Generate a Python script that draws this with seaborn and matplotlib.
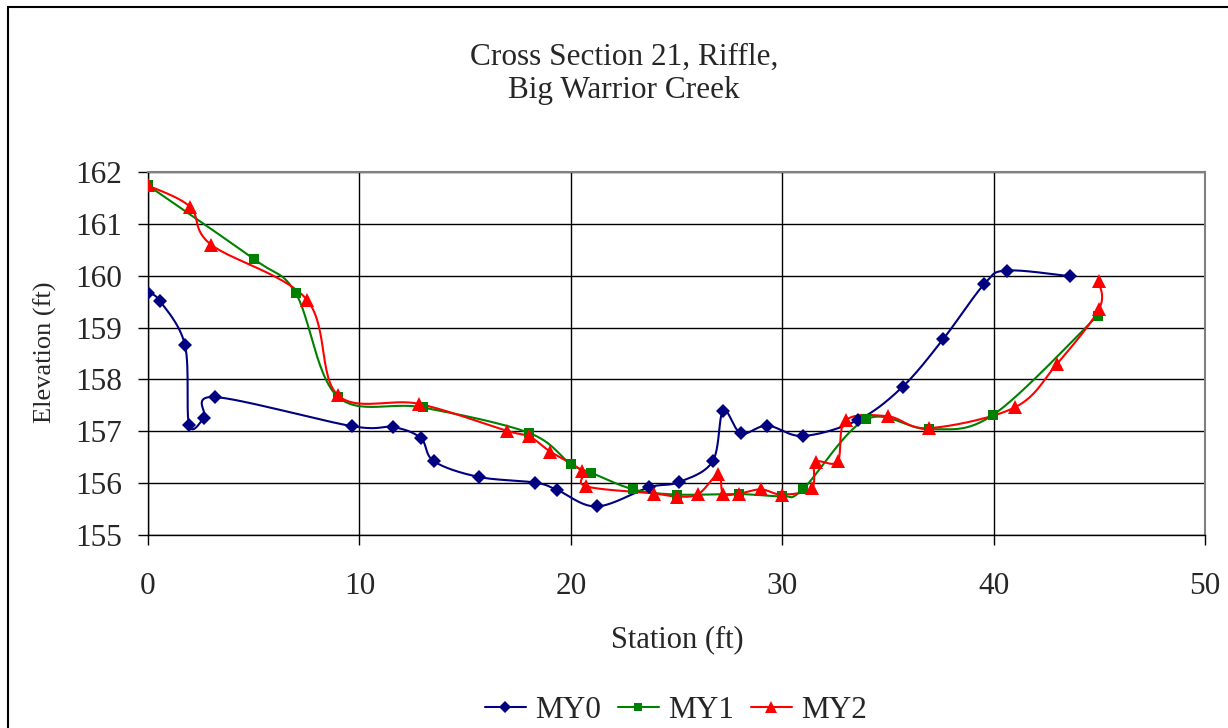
import numpy as np
import pandas as pd
import matplotlib
matplotlib.use("Agg")
import matplotlib.pyplot as plt
import seaborn as sns
from matplotlib.lines import Line2D
from matplotlib.patches import Rectangle

# ==========================================
# DATA
# ==========================================

my0_station = [0.0, 0.57, 1.75, 1.94, 2.65, 3.17, 9.63, 11.6, 12.9, 13.53,
               15.64, 18.32, 19.35, 21.22, 23.71, 25.12, 26.71, 27.21, 28.05,
               29.3, 31.0, 33.6, 35.7, 37.62, 39.56, 40.62, 43.61]
my0_elev = [159.67, 159.51, 158.66, 157.13, 157.26, 157.66, 157.10, 157.08,
            156.87, 156.42, 156.12, 156.01, 155.87, 155.55, 155.92, 156.02,
            156.42, 157.40, 156.96, 157.11, 156.91, 157.22, 157.86, 158.78,
            159.84, 160.10, 159.99]

my1_station = [0.0, 5.01, 6.99, 8.97, 12.99, 18.02, 19.99, 20.97, 22.96,
               25.0, 27.97, 29.98, 30.97, 33.96, 36.96, 39.99, 44.92]
my1_elev = [161.74, 160.32, 159.66, 157.67, 157.46, 156.97, 156.37, 156.20,
            155.88, 155.78, 155.79, 155.75, 155.88, 157.23, 157.04, 157.32,
            159.23]

my2_station = [0.0, 1.99, 2.98, 7.51, 8.97, 12.8, 16.97, 18.04, 19.02, 20.51,
               20.72, 23.95, 25.0, 26.03, 26.98, 27.21, 27.97, 29.0, 29.98,
               31.39, 31.58, 32.62, 33.0, 34.99, 36.96, 41.0, 42.98, 44.99,
               44.97]
my2_elev = [161.74, 161.33, 160.60, 159.54, 157.70, 157.53, 157.01, 156.90,
            156.61, 156.24, 155.94, 155.80, 155.74, 155.79, 156.17, 155.80,
            155.80, 155.88, 155.78, 155.90, 156.40, 156.42, 157.21, 157.29,
            157.06, 157.46, 158.29, 159.36, 159.89]

series_names = ["MY0", "MY1", "MY2"]
series_colors = {"MY0": "#000080", "MY1": "#008000", "MY2": "#FF0000"}
series_markers = {"MY0": "D", "MY1": "s", "MY2": "^"}
series_sizes = {"MY0": 7.5, "MY1": 7.0, "MY2": 10.0}

x_ticks = [0, 10, 20, 30, 40, 50]
y_ticks = [155, 156, 157, 158, 159, 160, 161, 162]

points = pd.concat([
    pd.DataFrame({"Series": "MY0", "Station": my0_station, "Elevation": my0_elev}),
    pd.DataFrame({"Series": "MY1", "Station": my1_station, "Elevation": my1_elev}),
    pd.DataFrame({"Series": "MY2", "Station": my2_station, "Elevation": my2_elev}),
], ignore_index=True)


# smoothed line like the spreadsheet "smooth line" option (cubic bezier)
def smooth(xs, ys, n=30):
    p = np.column_stack([xs, ys])
    ext = np.vstack([p[0], p, p[-1]])
    out = []
    t = np.linspace(0, 1, n)[:, None]
    for i in range(len(p) - 1):
        p0, p1, p2, p3 = ext[i], ext[i + 1], ext[i + 2], ext[i + 3]
        c1 = p1 + (p2 - p0) / 6
        c2 = p2 - (p3 - p1) / 6
        seg = ((1 - t) ** 3 * p1 + 3 * (1 - t) ** 2 * t * c1
               + 3 * (1 - t) * t ** 2 * c2 + t ** 3 * p2)
        out.append(seg if i == 0 else seg[1:])
    return np.vstack(out)


curves = []
for name, grp in points.groupby("Series", sort=False):
    c = smooth(grp["Station"].values, grp["Elevation"].values)
    curves.append(pd.DataFrame({"Series": name, "Station": c[:, 0],
                                "Elevation": c[:, 1]}))
curves = pd.concat(curves, ignore_index=True)

# ==========================================
# PLOT
# ==========================================

sns.set_style("white")
plt.rcParams["font.family"] = ["Liberation Serif", "DejaVu Serif"]

W, H = 1228, 728
fig = plt.figure(figsize=(W / 100, H / 100), dpi=100)
ax = fig.add_axes([148 / W, 1 - 535 / H, (1205 - 148) / W, (535 - 172) / H])

ax.set_xlim(0, 50)
ax.set_ylim(155, 162)
ax.set_xticks(x_ticks)
ax.set_yticks(y_ticks)
ax.grid(True, color="black", linewidth=1.0)
ax.set_axisbelow(True)

for name in series_names:
    sub = curves[curves["Series"] == name]
    sns.lineplot(
        data=sub, x="Station", y="Elevation",
        color=series_colors[name], linewidth=1.5,
        sort=False, estimator=None, legend=False, ax=ax
    )
    pts = points[points["Series"] == name]
    ax.plot(pts["Station"], pts["Elevation"], linestyle="none",
            marker=series_markers[name], markersize=series_sizes[name],
            color=series_colors[name], markeredgewidth=0, zorder=3)

ax.set_xlabel("")
ax.set_ylabel("")

for side in ["top", "right"]:
    ax.spines[side].set_color("#808080")
    ax.spines[side].set_linewidth(1.5)
for side in ["left", "bottom"]:
    ax.spines[side].set_color("black")
    ax.spines[side].set_linewidth(1.0)

ax.tick_params(axis="both", which="major", labelsize=22.5, length=7.5,
               width=1.0, color="black", direction="out")
ax.tick_params(axis="x", pad=19)
ax.tick_params(axis="y", pad=11)
ax.xaxis.set_ticks_position("bottom")
ax.yaxis.set_ticks_position("left")

fig.text(624 / W, 1 - 74 / H, "Cross Section 21, Riffle,\nBig Warrior Creek",
         ha="center", va="center", fontsize=22.5, linespacing=1.2)
fig.text(677 / W, 1 - 640 / H, "Station (ft)", ha="center", va="center",
         fontsize=22)
fig.text(45 / W, 1 - 352 / H, "Elevation (ft)", ha="center", va="center",
         rotation=90, fontsize=19)

handles = [
    Line2D([0], [0], color=series_colors[n], linewidth=1.5,
           marker=series_markers[n], markersize=series_sizes[n] * 0.85,
           markeredgewidth=0)
    for n in series_names
]
fig.legend(handles, series_names, loc="center", ncol=3, frameon=False,
           bbox_to_anchor=(676 / W, 1 - 710 / H), fontsize=22.5,
           handlelength=1.3, handletextpad=0.3, columnspacing=0.55,
           borderaxespad=0)

fig.patches.append(Rectangle((8 / W, -0.1), 1.2, 1.1 - 7 / H,
                             transform=fig.transFigure, fill=False,
                             edgecolor="black", linewidth=1.5))

fig.savefig("out.png", dpi=100)
